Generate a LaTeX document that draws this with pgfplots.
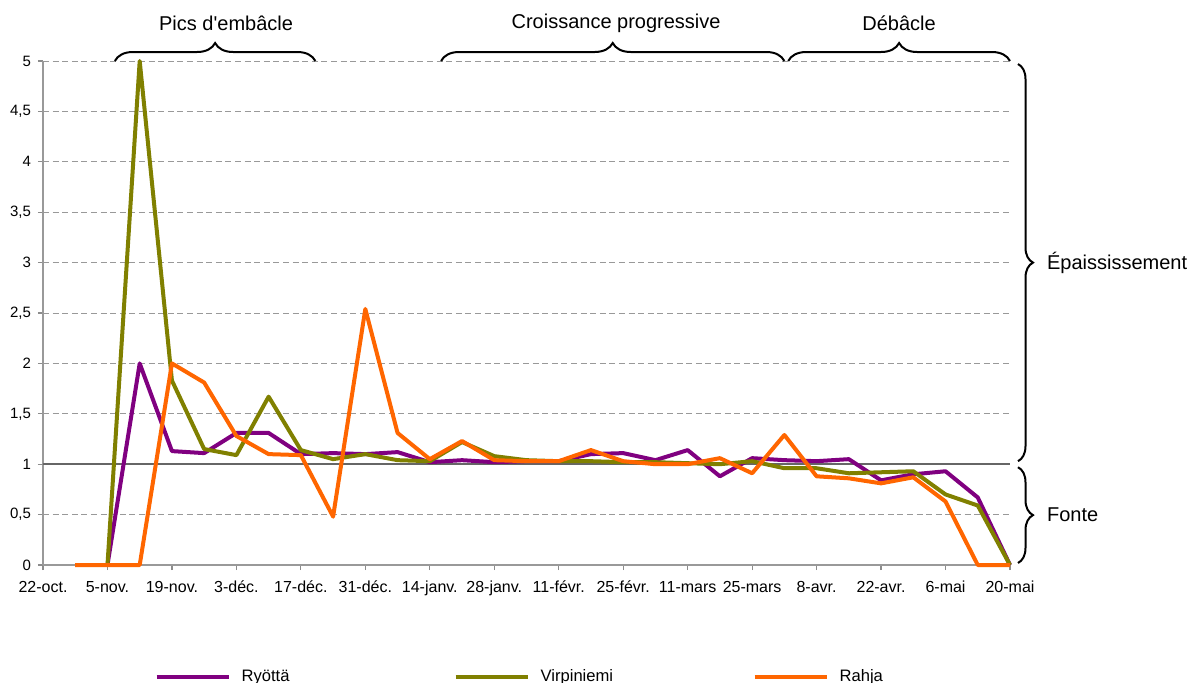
\documentclass[border=0pt]{standalone}
\usepackage{fontspec}
\setmainfont{Liberation Sans}
\usepackage{pgfplots}
\usepackage{pgfplotstable}
\pgfplotsset{compat=1.18}
\usetikzlibrary{decorations.pathreplacing}

\definecolor{ryo}{RGB}{128,0,128}
\definecolor{vir}{RGB}{128,128,0}
\definecolor{rah}{RGB}{255,102,0}

% weeks since 22-oct.
\pgfplotstableread{
x  ryo  vir  rah
1  nan  nan  0
2  0    0    0
3  2.00 5.00 0
4  1.13 1.83 2.00
5  1.11 1.15 1.81
6  1.31 1.09 1.28
7  1.31 1.67 1.10
8  1.10 1.14 1.09
9  1.11 1.05 0.48
10 1.10 1.10 2.54
11 1.12 1.04 1.31
12 1.02 1.03 1.05
13 1.04 1.22 1.23
14 1.02 1.08 1.04
15 1.03 1.04 1.03
16 1.03 1.03 1.03
17 1.10 1.03 1.14
18 1.11 1.02 1.03
19 1.04 1.02 1.00
20 1.14 1.01 1.00
21 0.88 1.00 1.06
22 1.06 1.03 0.91
23 1.04 0.96 1.29
24 1.03 0.96 0.88
25 1.05 0.91 0.86
26 0.84 0.92 0.81
27 0.90 0.93 0.87
28 0.93 0.70 0.63
29 0.67 0.59 0
30 0    0    0
}\data

\begin{document}
\begin{tikzpicture}
\useasboundingbox (-21.5pt,-58.5pt) rectangle (573pt,282.5pt);
\begin{axis}[
  at={(0,0)}, anchor=south west,
  scale only axis, width=483.5pt, height=252pt,
  xmin=0, xmax=30, ymin=0, ymax=5,
  clip=false,
  axis x line*=bottom, axis y line*=left,
  axis line style={-, black!40, line width=0.6pt},
  xtick={0,2,...,30},
  xticklabels={22-oct., 5-nov., 19-nov., 3-déc., 17-déc., 31-déc., 14-janv., 28-janv., 11-févr., 25-févr., 11-mars, 25-mars, 8-avr., 22-avr., 6-mai, 20-mai},
  ytick={0,0.5,...,5},
  tick align=outside, major tick length=2.5pt,
  tick style={black!45, line width=0.6pt},
  x tick label style={font=\fontsize{8}{9}\selectfont, yshift=-2pt},
  y tick label style={font=\fontsize{7.5}{9}\selectfont,
    /pgf/number format/.cd, use comma, fixed, assume math mode=true},
  ymajorgrids,
  major grid style={black!40, dash pattern=on 3pt off 1.8pt, line width=0.5pt},
  extra y ticks={1}, extra y tick labels={},
  extra y tick style={grid=major, major grid style={solid, black!60, line width=0.9pt}},
  every axis plot/.append style={line width=2pt, line join=round, no markers},
  legend columns=3,
  legend style={at={(0.115,-0.222)}, anchor=west, draw=none, fill=none,
    inner sep=0pt, font=\fontsize{8.3}{9}\selectfont,
    /tikz/every odd column/.append style={column sep=3.5pt},
    /tikz/every even column/.append style={column sep=9pt}},
  legend cell align=left,
  legend image code/.code={\draw[#1, line width=2pt] (0pt,0pt) -- (36pt,0pt);},
]
\addplot[ryo] table[x=x, y=ryo] {\data};
\addplot[vir] table[x=x, y=vir] {\data};
\addplot[rah] table[x=x, y=rah] {\data};
\legend{\makebox[95pt][l]{Ryöttä}, \makebox[95pt][l]{Virpiniemi}, \makebox[95pt][l]{Rahja}}

% phases
\draw[decorate, decoration={brace, amplitude=9pt}, line width=1pt]
  (axis cs:2.23,5) -- (axis cs:8.45,5);
\draw[decorate, decoration={brace, amplitude=9pt}, line width=1pt]
  (axis cs:12.35,5) -- (axis cs:23.0,5);
\draw[decorate, decoration={brace, amplitude=9pt}, line width=1pt]
  (axis cs:23.12,5) -- (axis cs:30,5);
\node[font=\fontsize{10}{12}\selectfont] at ([yshift=19pt]axis cs:5.68,5) {Pics d\textquotesingle embâcle};
\node[font=\fontsize{10}{12}\selectfont] at ([yshift=19pt]axis cs:17.78,5) {Croissance progressive};
\node[font=\fontsize{10}{12}\selectfont] at ([yshift=19pt]axis cs:26.56,5) {Débâcle};

\draw[decorate, decoration={brace, amplitude=7.5pt}, line width=1pt]
  ([xshift=4pt]axis cs:30,4.97) -- ([xshift=4pt]axis cs:30,1.03);
\draw[decorate, decoration={brace, amplitude=7.5pt}, line width=1pt]
  ([xshift=4pt]axis cs:30,0.97) -- ([xshift=4pt]axis cs:30,0.02);
\node[anchor=west, font=\fontsize{10}{12}\selectfont] at ([xshift=15pt]axis cs:30,3) {Épaississement};
\node[anchor=west, font=\fontsize{10}{12}\selectfont] at ([xshift=15pt]axis cs:30,0.5) {Fonte};
\end{axis}
\end{tikzpicture}
\end{document}
